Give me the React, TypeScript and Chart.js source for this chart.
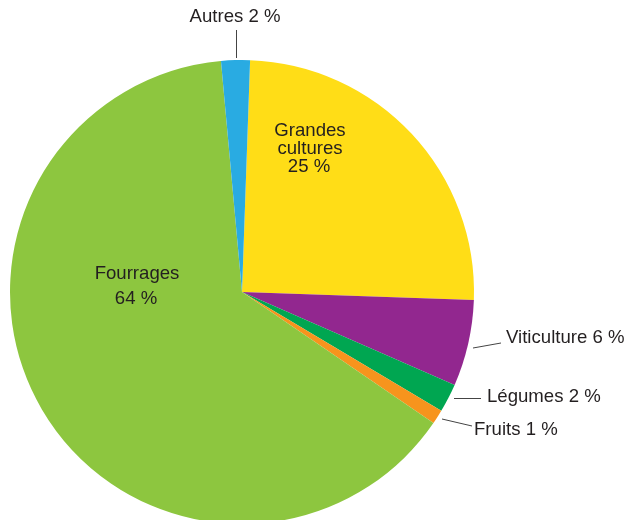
import React, { useEffect, useRef } from "react";
import { Chart, registerables } from "chart.js";

Chart.register(...registerables);

const categories = ["Grandes cultures", "Viticulture", "Légumes", "Fruits", "Fourrages", "Autres"];
const values = [25, 6, 2, 1, 64, 2];
const colors = ["#FFDD17", "#92278F", "#00A651", "#F7941D", "#8DC63F", "#29ABE2"];

const FONT = '18.6px "Liberation Sans", Arial, sans-serif';
const TEXT = "#231F20";

const labelPlugin = {
  id: "pieLabels",
  afterDraw(chart: any) {
    const ctx = chart.ctx;
    ctx.save();
    ctx.font = FONT;
    ctx.fillStyle = TEXT;
    ctx.strokeStyle = "#444";
    ctx.lineWidth = 1;
    ctx.textBaseline = "middle";

    const line = (x1: number, y1: number, x2: number, y2: number) => {
      ctx.beginPath();
      ctx.moveTo(x1, y1);
      ctx.lineTo(x2, y2);
      ctx.stroke();
    };

    // Inside labels
    ctx.textAlign = "center";
    ctx.fillText("Grandes", 310, 131);
    ctx.fillText("cultures", 310, 149);
    ctx.fillText(`${values[0]} %`, 309, 167);
    ctx.fillText("Fourrages", 137, 274);
    ctx.fillText(`${values[4]} %`, 136, 299);

    // Outside labels
    ctx.textAlign = "center";
    ctx.fillText(`Autres ${values[5]} %`, 235, 17);
    line(236.5, 30, 236.5, 58);

    ctx.textAlign = "left";
    ctx.fillText(`Viticulture ${values[1]} %`, 506, 338);
    line(473, 348, 501, 343);
    ctx.fillText(`Légumes ${values[2]} %`, 487, 397);
    line(454, 398.5, 481, 398.5);
    ctx.fillText(`Fruits ${values[3]} %`, 474, 430);
    line(442, 419, 472, 426);

    ctx.restore();
  },
};

export default function App() {
  const ref = useRef<HTMLCanvasElement | null>(null);
  useEffect(() => {
    if (!ref.current) return;
    const chart = new Chart(ref.current, {
      type: "pie",
      data: {
        labels: categories,
        datasets: [
          {
            data: values,
            backgroundColor: colors,
            borderColor: "#ffffff",
            borderWidth: 0,
          },
        ],
      },
      options: {
        responsive: false,
        animation: false,
        rotation: 2,
        layout: { padding: { left: 10, top: 60, right: 154, bottom: 36 } },
        plugins: {
          legend: { display: false },
          tooltip: { enabled: false },
        },
      },
      plugins: [labelPlugin],
    });
    return () => chart.destroy();
  }, []);
  return (
    <div
      style={{
        position: "fixed",
        left: 0,
        top: 0,
        width: 628,
        height: 520,
        overflow: "hidden",
        background: "#fff",
      }}
    >
      <canvas ref={ref} width={628} height={560} style={{ display: "block" }} />
    </div>
  );
}
